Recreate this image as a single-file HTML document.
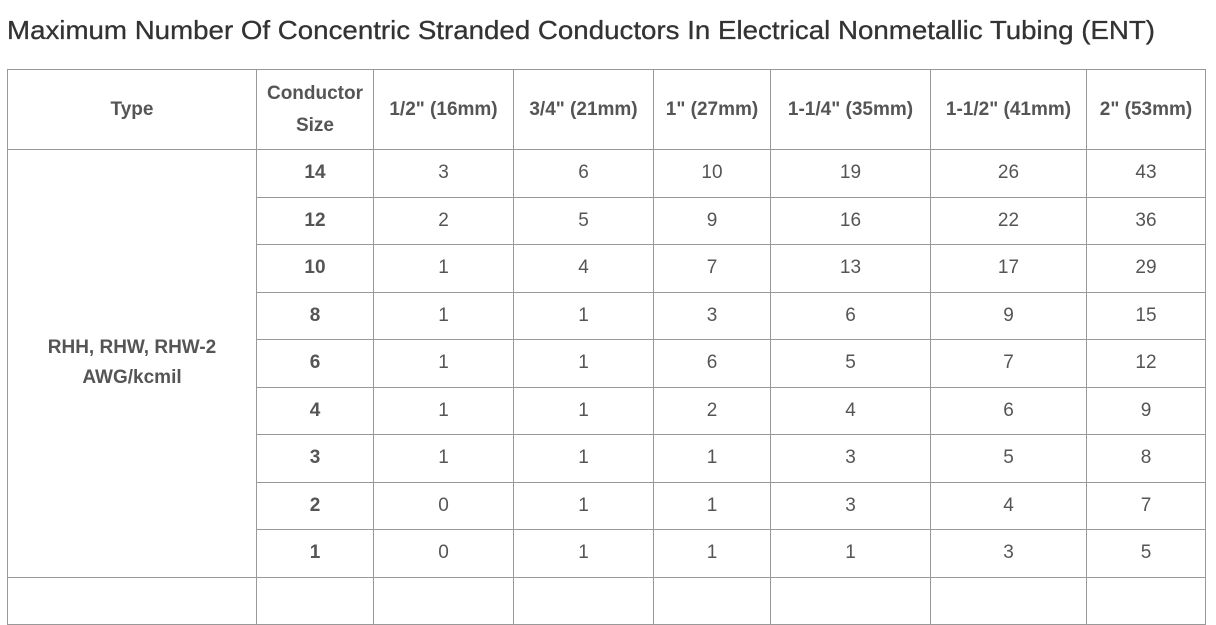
<!DOCTYPE html>
<html><head><meta charset="utf-8"><style>
html,body{margin:0;padding:0;background:#fff;width:1216px;height:579px;overflow:hidden}
body{font-family:"Liberation Sans",Arial,sans-serif;color:#555}
h1{position:absolute;left:7px;top:15px;margin:0;font-size:26px;font-weight:normal;color:#333;white-space:nowrap;transform:scaleX(1.065);transform-origin:left top;-webkit-text-stroke:0.3px #333}
table{position:absolute;left:7px;top:69px;border-collapse:collapse;table-layout:fixed;width:1199px}
td,th{border:1px solid #999;text-align:center;font-size:19px;padding:0;height:46.5px}
th{font-weight:bold;color:#555;height:79px;line-height:32px}
td.sz{font-weight:bold}
td.type{font-weight:bold;vertical-align:middle;line-height:30px}
</style></head><body>
<h1>Maximum Number Of Concentric Stranded Conductors In Electrical Nonmetallic Tubing (ENT)</h1>
<table>
<colgroup><col style="width:249px"><col style="width:117px"><col style="width:140px"><col style="width:140px"><col style="width:117px"><col style="width:160px"><col style="width:156px"><col style="width:119px"></colgroup>
<tr><th>Type</th><th>Conductor<br>Size</th><th>1/2" (16mm)</th><th>3/4" (21mm)</th><th>1" (27mm)</th><th>1-1/4" (35mm)</th><th>1-1/2" (41mm)</th><th>2" (53mm)</th></tr>
<tr><td rowspan="9" class="type">RHH, RHW, RHW-2<br>AWG/kcmil</td><td class="sz">14</td><td>3</td><td>6</td><td>10</td><td>19</td><td>26</td><td>43</td></tr>
<tr><td class="sz">12</td><td>2</td><td>5</td><td>9</td><td>16</td><td>22</td><td>36</td></tr>
<tr><td class="sz">10</td><td>1</td><td>4</td><td>7</td><td>13</td><td>17</td><td>29</td></tr>
<tr><td class="sz">8</td><td>1</td><td>1</td><td>3</td><td>6</td><td>9</td><td>15</td></tr>
<tr><td class="sz">6</td><td>1</td><td>1</td><td>6</td><td>5</td><td>7</td><td>12</td></tr>
<tr><td class="sz">4</td><td>1</td><td>1</td><td>2</td><td>4</td><td>6</td><td>9</td></tr>
<tr><td class="sz">3</td><td>1</td><td>1</td><td>1</td><td>3</td><td>5</td><td>8</td></tr>
<tr><td class="sz">2</td><td>0</td><td>1</td><td>1</td><td>3</td><td>4</td><td>7</td></tr>
<tr><td class="sz">1</td><td>0</td><td>1</td><td>1</td><td>1</td><td>3</td><td>5</td></tr>
<tr><td></td><td></td><td></td><td></td><td></td><td></td><td></td><td></td></tr>
</table>
</body></html>
